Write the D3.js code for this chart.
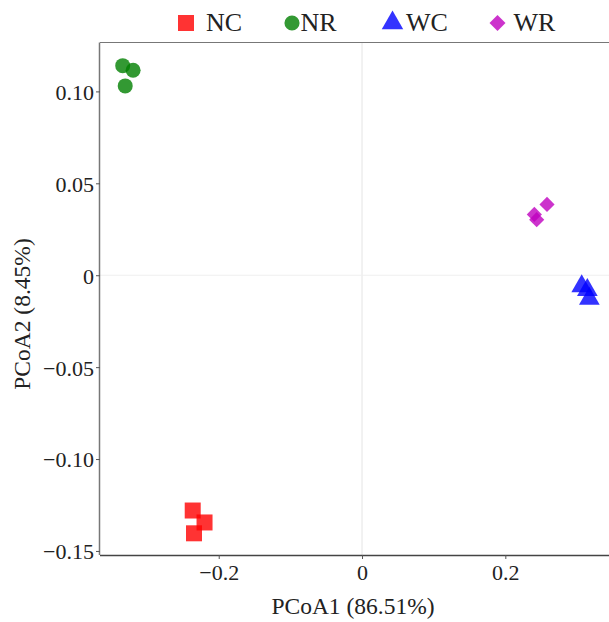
<!DOCTYPE html>
<html>
<head>
<meta charset="utf-8">
<script src="https://cdn.jsdelivr.net/npm/d3@7"></script>
<style>
  body { margin: 0; background: #fff; }
  svg text { font-family: "Liberation Serif", "DejaVu Serif", serif; fill: #222; }
</style>
</head>
<body>
<div id="chart"></div>
<script>
// groups and their PCoA coordinates
var groups = ['NC', 'NR', 'WC', 'WR']
var ncPC1 = [-0.2363, -0.2198, -0.2345]
var ncPC2 = [-0.1280, -0.1345, -0.1404]
var nrPC1 = [-0.3340, -0.3195, -0.3305]
var nrPC2 = [0.1140, 0.1115, 0.1030]
var wcPC1 = [0.3066, 0.3145, 0.3173]
var wcPC2 = [-0.0060, -0.0080, -0.0128]
var wrPC1 = [0.2582, 0.2405, 0.2438]
var wrPC2 = [0.0385, 0.0331, 0.0302]
var xTicks = [-0.2, 0, 0.2]
var yTicks = [0.10, 0.05, 0, -0.05, -0.10, -0.15]

var colors = { NC: '#ff0000', NR: '#008000', WC: '#0000ff', WR: '#bf00bf' }
var shapes = { NC: d3.symbolSquare, NR: d3.symbolCircle, WC: d3.symbolTriangle, WR: d3.symbolSquare }
var sizes = { NC: 256, NR: 177, WC: 185, WR: 115 }
var rotate = { NC: 0, NR: 0, WC: 0, WR: 45 }

var points = []
function addGroup(name, xs, ys) {
    for (let i = 0; i < xs.length; i++) {
        points.push({ group: name, pc1: xs[i], pc2: ys[i] })
    }
}
addGroup('NC', ncPC1, ncPC2)
addGroup('NR', nrPC1, nrPC2)
addGroup('WC', wcPC1, wcPC2)
addGroup('WR', wrPC1, wrPC2)

var width = 609, height = 622
var plotLeft = 100, plotRight = 612, plotTop = 42.5, plotBottom = 555

var x = d3.scaleLinear().domain([-0.3657, 0.3489]).range([plotLeft, plotRight])
var y = d3.scaleLinear().domain([-0.1522, 0.1266]).range([plotBottom, plotTop])

var svg = d3.select('#chart').append('svg')
    .attr('width', width)
    .attr('height', height)

// zero reference lines
svg.append('line')
    .attr('x1', x(0)).attr('x2', x(0))
    .attr('y1', plotTop).attr('y2', plotBottom)
    .attr('stroke', '#e4e4e4').attr('stroke-width', 1)
svg.append('line')
    .attr('x1', plotLeft).attr('x2', plotRight)
    .attr('y1', y(0)).attr('y2', y(0))
    .attr('stroke', '#efefef').attr('stroke-width', 1)

// panel border (top)
svg.append('line')
    .attr('x1', plotLeft).attr('x2', plotRight)
    .attr('y1', plotTop).attr('y2', plotTop)
    .attr('stroke', '#777').attr('stroke-width', 1)

// axes
var xAxis = d3.axisBottom(x).tickValues(xTicks).tickSize(4).tickPadding(5)
    .tickFormat(d => d === 0 ? '0' : d3.format('.1f')(d).replace('-', '\u2212'))
var yAxis = d3.axisLeft(y).tickValues(yTicks).tickSize(4).tickPadding(2)
    .tickFormat(d => d === 0 ? '0' : d3.format('.2f')(d).replace('-', '\u2212'))

var gx = svg.append('g')
    .attr('transform', 'translate(0,' + plotBottom + ')')
    .call(xAxis)
gx.select('.domain').attr('d', 'M' + plotLeft + ',0.5H' + plotRight).attr('stroke', '#444').attr('stroke-width', 1.5)
gx.selectAll('.tick line').attr('stroke', '#555')
gx.selectAll('.tick text').style('font-size', '22px')

var gy = svg.append('g')
    .attr('transform', 'translate(' + plotLeft + ',0)')
    .call(yAxis)
gy.select('.domain').attr('d', 'M-0.5,' + plotTop + 'V' + plotBottom).attr('stroke', '#777').attr('stroke-width', 1.5)
gy.selectAll('.tick line').attr('stroke', '#555')
gy.selectAll('.tick text').style('font-size', '22px').attr('dy', '0.36em')

// axis titles
svg.append('text')
    .attr('x', 353).attr('y', 614)
    .attr('text-anchor', 'middle')
    .style('font-size', '23.5px')
    .text('PCoA1 (86.51%)')
svg.append('text')
    .attr('transform', 'translate(30,314) rotate(-90)')
    .attr('text-anchor', 'middle')
    .style('font-size', '23.5px')
    .text('PCoA2 (8.45%)')

// points
svg.append('g')
    .selectAll('path')
    .data(points)
    .enter()
    .append('path')
    .attr('d', d => d3.symbol().type(shapes[d.group]).size(sizes[d.group])())
    .attr('transform', d => 'translate(' + x(d.pc1) + ',' + y(d.pc2) + ') rotate(' + rotate[d.group] + ')')
    .attr('fill', d => colors[d.group])
    .attr('fill-opacity', 0.8)

// legend
var legendX = { NC: 186, NR: 292, WC: 392.5, WR: 497.5 }
var legendSize = { NC: 256, NR: 180, WC: 200, WR: 128 }
var legend = svg.append('g')
groups.forEach(function(g) {
    legend.append('path')
        .attr('d', d3.symbol().type(shapes[g]).size(legendSize[g])())
        .attr('transform', 'translate(' + legendX[g] + ',23) rotate(' + rotate[g] + ')')
        .attr('fill', colors[g])
        .attr('fill-opacity', 0.8)
    legend.append('text')
        .attr('x', legendX[g] + (g === 'NC' ? 20 : g === 'NR' ? 8.5 : g === 'WC' ? 13.5 : 16))
        .attr('y', 31)
        .style('font-size', '26px')
        .text(g)
})
</script>
</body>
</html>
